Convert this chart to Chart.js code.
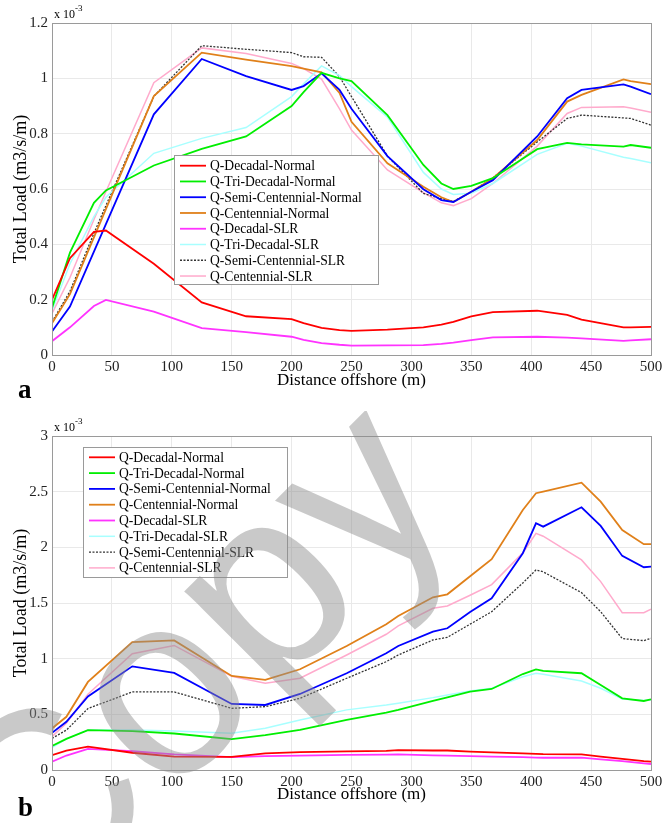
<!DOCTYPE html>
<html>
<head>
<meta charset="utf-8">
<title>Total Load vs Distance offshore</title>
<script src="https://cdn.jsdelivr.net/npm/chart.js@4.4.1/dist/chart.umd.min.js"></script>
<style>
  body { margin: 0; background: #fff; width: 672px; height: 823px; position: relative; overflow: hidden; }
  canvas { position: absolute; left: 0; }
  #chartA { top: 0; }
  #chartB { top: 411px; }
  .tag { position: absolute; font: bold 27px 'Liberation Serif', serif; color: #000; }
  .mult { position: absolute; font: 12px 'Liberation Serif', serif; color: #000; }
  .mult sup { font-size: 9px; position: relative; top: -2px; }
</style>
</head>
<body>
<canvas id="chartA" width="672" height="411"></canvas>
<canvas id="chartB" width="672" height="412"></canvas>
<div class="mult" style="left:54px; top:5px;">x 10<sup>-3</sup></div>
<div class="mult" style="left:54px; top:418px;">x 10<sup>-3</sup></div>
<div class="tag" style="left:18px; top:374px;">a</div>
<div class="tag" style="left:18px; top:792px;">b</div>
<script>
// ---- series names (legend order) ----
const seriesNames = ['Q-Decadal-Normal', 'Q-Tri-Decadal-Normal', 'Q-Semi-Centennial-Normal', 'Q-Centennial-Normal',
                     'Q-Decadal-SLR', 'Q-Tri-Decadal-SLR', 'Q-Semi-Centennial-SLR', 'Q-Centennial-SLR'];

// ---- panel a: distance offshore (m) and total load (x 10^-3 m3/s/m) ----
const distA = [0, 15, 35, 45, 85, 125, 162, 200, 210, 225, 240, 250, 280, 310, 325, 335, 350, 368, 405, 430, 442, 477, 483, 500];
const decNormA  = [0.20, 0.35, 0.445, 0.45, 0.33, 0.19, 0.14, 0.13, 0.115, 0.098, 0.09, 0.087, 0.092, 0.1, 0.11, 0.12, 0.14, 0.155, 0.16, 0.145, 0.128, 0.1, 0.1, 0.102];
const triNormA  = [0.17, 0.37, 0.55, 0.595, 0.685, 0.745, 0.79, 0.9, 0.95, 1.02, 1.0, 0.99, 0.867, 0.687, 0.62, 0.6, 0.611, 0.639, 0.744, 0.767, 0.761, 0.753, 0.759, 0.749];
const semiNormA = [0.085, 0.175, 0.374, 0.473, 0.87, 1.07, 1.008, 0.958, 0.972, 1.018, 0.958, 0.89, 0.719, 0.599, 0.56, 0.553, 0.59, 0.632, 0.79, 0.928, 0.958, 0.978, 0.97, 0.943];
const centNormA = [0.115, 0.22, 0.425, 0.527, 0.936, 1.093, 1.068, 1.044, 1.035, 1.022, 0.947, 0.843, 0.693, 0.608, 0.57, 0.553, 0.59, 0.639, 0.777, 0.916, 0.94, 0.996, 0.99, 0.979];
const decSlrA   = [0.05, 0.1, 0.177, 0.199, 0.157, 0.097, 0.083, 0.066, 0.055, 0.043, 0.037, 0.034, 0.035, 0.036, 0.04, 0.045, 0.054, 0.064, 0.066, 0.063, 0.06, 0.051, 0.053, 0.057];
const triSlrA   = [0.16, 0.33, 0.5, 0.57, 0.729, 0.783, 0.822, 0.934, 0.98, 1.045, 1.01, 0.97, 0.86, 0.66, 0.6, 0.58, 0.585, 0.62, 0.725, 0.765, 0.755, 0.715, 0.71, 0.695];
const semiSlrA  = [0.12, 0.23, 0.44, 0.54, 0.935, 1.118, 1.105, 1.093, 1.078, 1.076, 1.006, 0.934, 0.719, 0.584, 0.565, 0.555, 0.59, 0.64, 0.77, 0.855, 0.867, 0.857, 0.855, 0.831];
const centSlrA  = [0.15, 0.28, 0.49, 0.59, 0.984, 1.11, 1.09, 1.054, 1.035, 0.997, 0.89, 0.813, 0.669, 0.587, 0.55, 0.54, 0.565, 0.62, 0.755, 0.873, 0.895, 0.897, 0.893, 0.877];

// ---- panel b ----
const distB = [0, 12, 30, 67, 102, 150, 178, 207, 246, 279, 289, 318, 330, 349, 367, 393, 404, 410, 442, 458, 476, 494, 500];
const decNormB  = [0.134, 0.173, 0.209, 0.155, 0.12, 0.118, 0.15, 0.16, 0.168, 0.172, 0.178, 0.175, 0.175, 0.165, 0.158, 0.15, 0.144, 0.142, 0.141, 0.12, 0.1, 0.08, 0.075];
const triNormB  = [0.215, 0.28, 0.358, 0.35, 0.328, 0.278, 0.313, 0.36, 0.45, 0.515, 0.54, 0.62, 0.653, 0.704, 0.728, 0.862, 0.904, 0.89, 0.869, 0.763, 0.644, 0.62, 0.635];
const semiNormB = [0.334, 0.433, 0.66, 0.931, 0.872, 0.593, 0.584, 0.683, 0.869, 1.048, 1.114, 1.243, 1.273, 1.42, 1.542, 1.947, 2.216, 2.186, 2.36, 2.192, 1.923, 1.821, 1.827];
const centNormB = [0.373, 0.478, 0.791, 1.149, 1.164, 0.845, 0.809, 0.905, 1.114, 1.309, 1.384, 1.551, 1.578, 1.74, 1.893, 2.336, 2.486, 2.5, 2.581, 2.41, 2.156, 2.028, 2.028];
const decSlrB   = [0.075, 0.13, 0.19, 0.17, 0.14, 0.115, 0.125, 0.13, 0.135, 0.138, 0.14, 0.132, 0.13, 0.125, 0.12, 0.115, 0.112, 0.11, 0.112, 0.095, 0.08, 0.06, 0.054];
const triSlrB   = [0.2, 0.28, 0.36, 0.36, 0.35, 0.33, 0.375, 0.45, 0.54, 0.584, 0.6, 0.65, 0.674, 0.71, 0.734, 0.838, 0.869, 0.86, 0.8, 0.734, 0.638, 0.625, 0.63];
const semiSlrB  = [0.284, 0.358, 0.552, 0.701, 0.701, 0.554, 0.569, 0.644, 0.824, 0.973, 1.033, 1.168, 1.192, 1.31, 1.422, 1.68, 1.797, 1.78, 1.593, 1.422, 1.18, 1.162, 1.183];
const centSlrB  = [0.3, 0.42, 0.68, 1.045, 1.119, 0.842, 0.779, 0.824, 1.033, 1.219, 1.294, 1.453, 1.473, 1.57, 1.665, 1.95, 2.126, 2.1, 1.887, 1.692, 1.413, 1.413, 1.444];

// line look for each series (same order as seriesNames)
const lineColors = ['#ff0000', '#00ee00', '#0000ff', '#e0801a', '#ff33ff', '#a8ffff', '#333333', '#ffaacc'];
const lineWidths = [1.8, 1.8, 1.8, 1.8, 1.8, 1.5, 1.3, 1.5];
const lineDashes = [[], [], [], [], [], [], [2, 1.5], []];

const serif = "'Liberation Serif', serif";

// MATLAB-like box round the plot area
const frameBox = {
  id: 'frameBox',
  afterDatasetsDraw(chart) {
    const a = chart.chartArea, ctx = chart.ctx;
    ctx.save();
    ctx.strokeStyle = '#9a9a9a';
    ctx.lineWidth = 1;
    ctx.strokeRect(Math.round(a.left) + 0.5, Math.round(a.top) + 0.5, Math.round(a.right - a.left), Math.round(a.bottom - a.top));
    ctx.restore();
  }
};

// legend drawn inside the axes, like MATLAB
const boxLegend = {
  id: 'boxLegend',
  afterDatasetsDraw(chart, args, o) {
    const ctx = chart.ctx;
    ctx.save();
    ctx.fillStyle = '#fff';
    ctx.fillRect(o.x, o.y, o.w, o.h);
    ctx.strokeStyle = '#9a9a9a';
    ctx.lineWidth = 1;
    ctx.strokeRect(o.x + 0.5, o.y + 0.5, o.w, o.h);
    ctx.font = '13.6px ' + serif;
    ctx.textBaseline = 'middle';
    chart.data.datasets.forEach((ds, i) => {
      const cy = o.y + o.first + i * o.row;
      ctx.beginPath();
      ctx.strokeStyle = ds.borderColor;
      ctx.lineWidth = ds.borderWidth;
      ctx.setLineDash(ds.borderDash || []);
      ctx.moveTo(o.x + 6, cy);
      ctx.lineTo(o.x + 32, cy);
      ctx.stroke();
      ctx.setLineDash([]);
      ctx.fillStyle = '#000';
      ctx.fillText(ds.label, o.x + 36, cy + 1);
    });
    ctx.restore();
  }
};

// grey "Copy" stamp over panel b
const stamp = {
  id: 'stamp',
  afterDraw(chart, args, o) {
    if (!o.text) return;
    const ctx = chart.ctx;
    ctx.save();
    ctx.translate(o.x, o.y);
    ctx.rotate(o.angle);
    ctx.font = o.size + "px 'Liberation Sans', sans-serif";
    ctx.textAlign = 'center';
    ctx.textBaseline = 'alphabetic';
    ctx.fillStyle = 'rgba(140,140,140,0.47)';
    ctx.fillText(o.text, 0, 0);
    ctx.restore();
  }
};

function makeDatasets(dist, ys) {
  return ys.map((vals, i) => ({
    label: seriesNames[i],
    data: vals.map((v, k) => ({ x: dist[k], y: v })),
    borderColor: lineColors[i],
    backgroundColor: lineColors[i],
    borderWidth: lineWidths[i],
    borderDash: lineDashes[i],
    pointRadius: 0,
    tension: 0,
    fill: false
  }));
}

function makeChart(id, dist, ys, yMax, yStep, xAxisH, padTop, titlePadB, legendBox, stampOpts) {
  return new Chart(document.getElementById(id), {
    type: 'line',
    data: { datasets: makeDatasets(dist, ys) },
    options: {
      responsive: false,
      animation: false,
      layout: { padding: { top: padTop, right: 21, left: 0, bottom: 0 } },
      plugins: {
        legend: { display: false },
        tooltip: { enabled: false },
        boxLegend: legendBox,
        stamp: stampOpts
      },
      scales: {
        x: {
          type: 'linear',
          min: 0, max: 500,
          ticks: { stepSize: 50, color: '#222', font: { family: serif, size: 15 }, padding: 3, maxRotation: 0 },
          grid: { color: '#e9e9e9', drawTicks: false },
          border: { display: false },
          title: { display: true, text: 'Distance offshore (m)', color: '#000', font: { family: serif, size: 17 }, padding: { top: 0, bottom: titlePadB } },
          afterFit: s => { s.height = xAxisH; }
        },
        y: {
          min: 0, max: yMax,
          ticks: { stepSize: yStep, color: '#222', font: { family: serif, size: 15 }, padding: 4,
                   callback: v => String(+v.toFixed(2)) },
          grid: { color: '#e9e9e9', drawTicks: false },
          border: { display: false },
          title: { display: true, text: 'Total Load (m3/s/m)', color: '#000', font: { family: serif, size: 18 }, padding: { top: 10, bottom: 0 } },
          afterFit: s => { s.width = 52; }
        }
      }
    },
    plugins: [frameBox, boxLegend, stamp]
  });
}

makeChart('chartA', distA,
  [decNormA, triNormA, semiNormA, centNormA, decSlrA, triSlrA, semiSlrA, centSlrA],
  1.2, 0.2, 56, 23, 20,
  { x: 174, y: 155, w: 204, h: 129, first: 10.7, row: 15.76 },
  { text: '' });

makeChart('chartB', distB,
  [decNormB, triNormB, semiNormB, centNormB, decSlrB, triSlrB, semiSlrB, centSlrB],
  3, 0.5, 53, 25, 18,
  { x: 83, y: 36, w: 204, h: 130, first: 10.3, row: 15.8 },
  { text: 'Copy', x: 249, y: 310, angle: -Math.PI / 4, size: 260 });
</script>
</body>
</html>
